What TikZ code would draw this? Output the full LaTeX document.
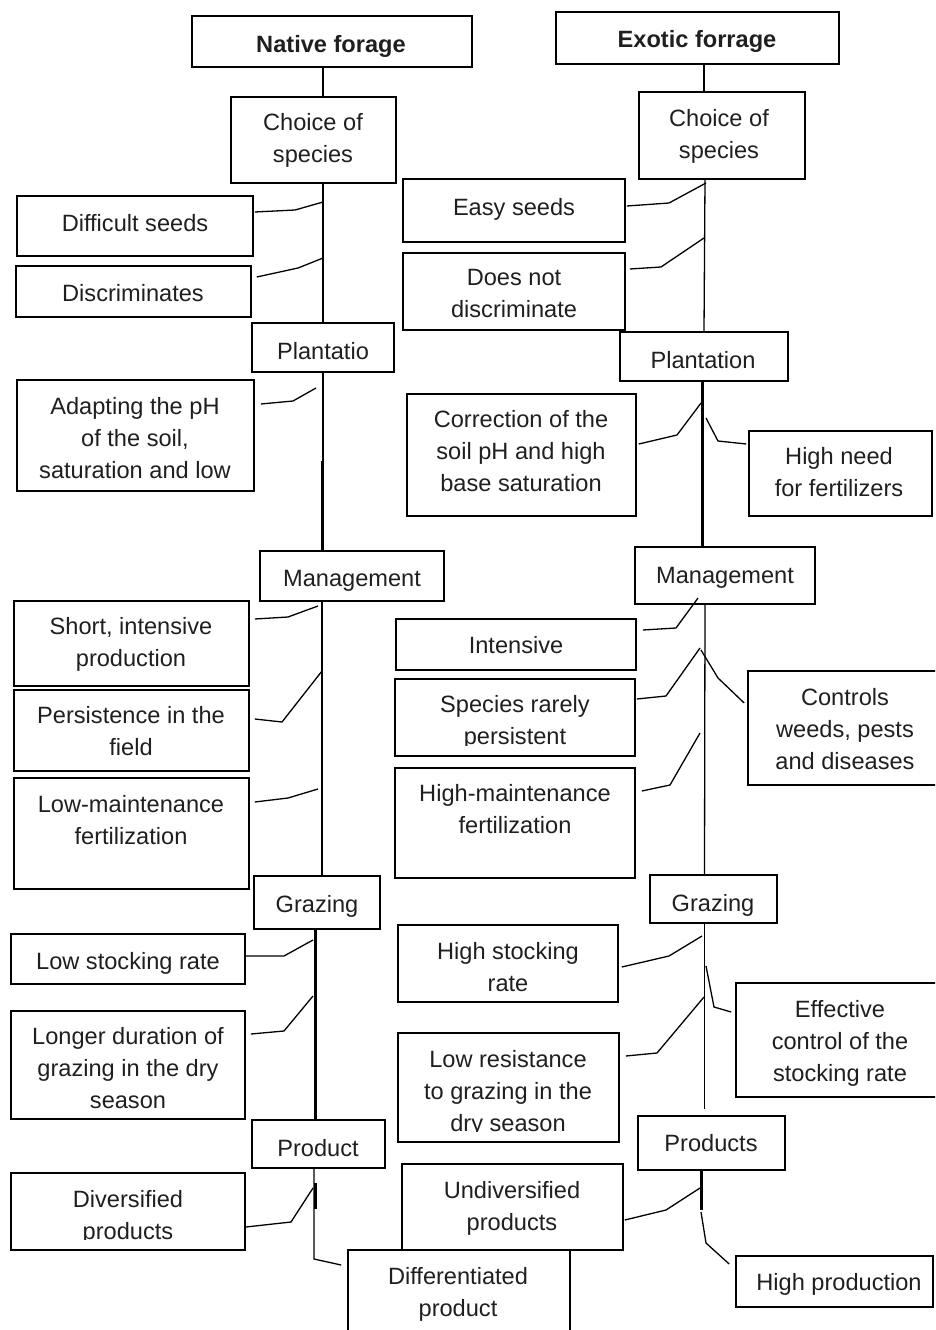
\documentclass[tikz,border=0pt]{standalone}
\usepackage{fontspec}
\setmainfont{Liberation Sans}
\usetikzlibrary{fit}
\newcommand\mybox[3]{\node[bx, fit={#2 #3}] (#1) {};}
\begin{document}
\begin{tikzpicture}[x=1pt,y=-1pt,
  bx/.style={draw, line width=1.6pt, inner sep=0pt},
  txt/.style={align=center, font=\fontsize{23.6}{32}\selectfont, inner sep=0pt, text=black!88, yshift=-4.5pt,
    execute at begin node={\strut}, execute at end node={\strut}},
  ttl/.style={txt, font=\fontsize{23.6}{32}\selectfont\bfseries},
  conn/.style={line width=1.3pt, line join=round},
  stem/.style={line width=1.3pt},
  heavy/.style={line width=3pt}]
\useasboundingbox (0,0) rectangle (935,1330);
\clip (0,0) rectangle (935,1330);

% ---------------- left column (native) ----------------
\mybox{nat}{(192,16)}{(472,67)}
\node[ttl] (nat-t) at (331,42) {Native forage};
\mybox{chL}{(231,97)}{(396,183)}
\node[txt] (chL-t) at (313,138) {Choice of\\species};
\mybox{diff}{(17,196)}{(253,256)}
\node[txt] (diff-t) at (135,221) {Difficult seeds};
\mybox{disc}{(16,266)}{(251,317)}
\node[txt] (disc-t) at (133,291) {Discriminates};
\mybox{plL}{(252,323)}{(394,372)}
\node[txt] (plL-t) at (323,349) {Plantatio};
\mybox{adapt}{(17,380)}{(254,491)}
\node[txt] (adapt-t) at (135,438) {Adapting the pH\\of the soil,\\saturation and low};
\mybox{mgL}{(260,551)}{(444,601)}
\node[txt] (mgL-t) at (352,576) {Management};
\mybox{short}{(14,601)}{(249,686)}
\node[txt] (short-t) at (131,642) {Short, intensive\\production};
\mybox{pers}{(14,690)}{(249,771)}
\node[txt] (pers-t) at (131,731) {Persistence in the\\field};
\mybox{lowm}{(14,778)}{(249,889)}
\node[txt] (lowm-t) at (131,820) {Low-maintenance\\fertilization};
\mybox{grL}{(254,876)}{(380,929)}
\node[txt] (grL-t) at (317,902) {Grazing};
\mybox{lowst}{(11,934)}{(245,984)}
\node[txt] (lowst-t) at (128,959) {Low stocking rate};
\mybox{longer}{(11,1011)}{(245,1119)}
\node[txt] (longer-t) at (128,1068) {Longer duration of\\grazing in the dry\\season};
\mybox{prodL}{(252,1120)}{(385,1168)}
\node[txt] (prodL-t) at (318,1146) {Product};
\mybox{divers}{(11,1173)}{(245,1250)}
\begin{scope}
\clip (11,1173) rectangle (245,1239);
\node[txt] (divers-t) at (128,1215) {Diversified\\products};
\end{scope}
\mybox{diffp}{(348,1250)}{(570,1345)}
\node[txt] (diffp-t) at (458,1292) {Differentiated\\product};

% trunks left
\draw[stem] (nat.south -| 323,0) -- (chL.north -| 323,0);
\draw[stem] (chL.south -| 323,0) -- (plL.north -| 323,0);
\draw[stem] (plL.south -| 323,0) -- (mgL.north -| 323,0);
\draw[heavy] (322,461) -- (mgL.north -| 322,0);
\draw[stem] (mgL.south -| 322,0) -- (grL.north -| 322,0);
\draw[heavy] (grL.south -| 315,0) -- (prodL.north -| 315,0);
\draw[stem] (prodL.south -| 314,0) -- (314,1259) -- ([xshift=-6pt]diffp.west |- 0,1265);
\draw[heavy] (315,1183) -- (315,1209);

% connectors left
\draw[conn] ([xshift=1pt]diff.east |- 0,212) -- (295,210) -- (323,202);
\draw[conn] ([xshift=5pt]disc.east |- 0,277) -- (298,268) -- (323,258);
\draw[conn] ([xshift=6pt]adapt.east |- 0,404) -- (293,401) -- (316,388);
\draw[conn] ([xshift=5pt]short.east |- 0,619) -- (288,617) -- (318,606);
\draw[conn] ([xshift=5pt]pers.east |- 0,719) -- (282,722) -- (322,671);
\draw[conn] ([xshift=5pt]lowm.east |- 0,802) -- (288,798) -- (318,789);
\draw[conn] (lowst.east |- 0,956) -- (284,956) -- (313,940);
\draw[conn] ([xshift=5pt]longer.east |- 0,1034) -- (284,1031) -- (313,996);
\draw[conn] (divers.east |- 0,1227) -- (291,1222) -- (313,1188);

% ---------------- right column (exotic) ----------------
\mybox{exo}{(556,12)}{(839,64)}
\node[ttl] (exo-t) at (697,37) {Exotic forrage};
\mybox{chR}{(639,92)}{(805,179)}
\node[txt] (chR-t) at (719,134) {Choice of\\species};
\mybox{easy}{(403,179)}{(625,242)}
\node[txt] (easy-t) at (514,205) {Easy seeds};
\mybox{dnd}{(403,253)}{(625,330)}
\node[txt] (dnd-t) at (514,294) {Does not\\discriminate};
\mybox{plR}{(620,332)}{(788,381)}
\node[txt] (plR-t) at (703,358) {Plantation};
\mybox{corr}{(407,394)}{(636,516)}
\node[txt] (corr-t) at (521,451) {Correction of the\\soil pH and high\\base saturation};
\mybox{hneed}{(749,431)}{(932,516)}
\node[txt] (hneed-t) at (839,472) {High need\\for fertilizers};
\mybox{mgR}{(635,547)}{(815,604)}
\node[txt] (mgR-t) at (725,573) {Management};
\mybox{inten}{(396,619)}{(636,670)}
\node[txt] (inten-t) at (516,643) {Intensive};
\mybox{species}{(395,679)}{(635,756)}
\begin{scope}
\clip (395,679) rectangle (635,745);
\node[txt] (species-t) at (515,720) {Species rarely\\persistent};
\end{scope}
\mybox{highm}{(395,768)}{(635,878)}
\node[txt] (highm-t) at (515,809) {High-maintenance\\fertilization};
\mybox{controls}{(748,671)}{(938,785)}
\node[txt] (controls-t) at (845,729) {Controls\\weeds, pests\\and diseases};
\mybox{grR}{(650,875)}{(777,923)}
\node[txt] (grR-t) at (713,901) {Grazing};
\mybox{hstock}{(398,925)}{(618,1002)}
\node[txt] (hstock-t) at (508,967) {High stocking\\rate};
\mybox{effect}{(736,983)}{(938,1097)}
\node[txt] (effect-t) at (840,1041) {Effective\\control of the\\stocking rate};
\mybox{lowres}{(398,1033)}{(619,1142)}
\begin{scope}
\clip (398,1033) rectangle (619,1131);
\node[txt] (lowres-t) at (508,1091) {Low resistance\\to grazing in the\\dry season};
\end{scope}
\mybox{prodR}{(638,1116)}{(785,1170)}
\node[txt] (prodR-t) at (711,1141) {Products};
\mybox{undiv}{(402,1164)}{(623,1250)}
\node[txt] (undiv-t) at (512,1206) {Undiversified\\products};
\mybox{hprod}{(736,1256)}{(933,1307)}
\node[txt] (hprod-t) at (839,1280) {High production};

% trunks right
\draw[stem] (exo.south -| 704,0) -- (chR.north -| 704,0);
\draw[stem] (chR.south -| 705,0) -- (plR.north -| 704,0);
\draw[heavy] (plR.south -| 702,0) -- (mgR.north -| 702,0);
\draw[stem] (mgR.south -| 705,0) -- (grR.north -| 704.5,0);
\draw[stem] (grR.south -| 704.5,0) -- (704.5,1109);
\draw[heavy] (prodR.south -| 701.5,0) -- (701.5,1210);

% connectors right
\draw[conn] ([xshift=1pt]easy.east |- 0,206) -- (669,203) -- (706,183);
\draw[conn] ([xshift=4pt]dnd.east |- 0,269) -- (661,267) -- (704,238);
\draw[conn] ([xshift=2pt]corr.east |- 0,444) -- (677,435) -- (701,403);
\draw[conn] (706,418) -- (718,441) -- ([xshift=-2pt]hneed.west |- 0,444);
\draw[conn] ([xshift=6pt]inten.east |- 0,630) -- (676,628) -- (698,598);
\draw[conn] ([xshift=1pt]species.east |- 0,699) -- (666,696) -- (700,648);
\draw[conn] (701,650) -- (718,678) -- ([xshift=-3pt]controls.west |- 0,703);
\draw[conn] ([xshift=6pt]highm.east |- 0,791) -- (670,785) -- (700,733);
\draw[conn] ([xshift=3pt]hstock.east |- 0,967) -- (669,956) -- (702,936);
\draw[conn] (706,966) -- (714,1007) -- ([xshift=-4pt]effect.west |- 0,1012);
\draw[conn] ([xshift=6pt]lowres.east |- 0,1056) -- (657,1053) -- (704,997);
\draw[conn] ([xshift=1pt]undiv.east |- 0,1220) -- (666,1210) -- (700,1188);
\draw[conn] (701,1212) -- (706,1243) -- ([xshift=-6pt]hprod.west |- 0,1264);
\end{tikzpicture}
\end{document}
